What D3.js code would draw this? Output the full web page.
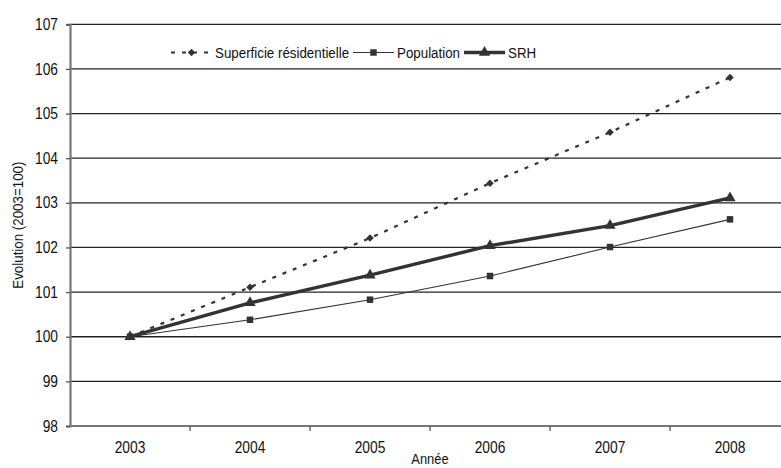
<!DOCTYPE html>
<html><head><meta charset="utf-8">
<script src="https://cdn.jsdelivr.net/npm/d3@7"></script>
<style>
html,body{margin:0;padding:0;background:#fff;overflow:hidden}
svg{display:block}
text{font-family:"Liberation Sans Narrow","Arial Narrow","Liberation Sans",sans-serif;fill:#111}
</style></head>
<body>
<svg id="c" width="781" height="468"></svg>
<script>
const years = ["2003","2004","2005","2006","2007","2008"];
const superficie = [100, 101.11, 102.21, 103.44, 104.58, 105.81];
const population = [100, 100.38, 100.83, 101.36, 102.01, 102.63];
const srh = [100, 100.76, 101.38, 102.04, 102.49, 103.11];
const yTicks = [98, 99, 100, 101, 102, 103, 104, 105, 106, 107];
const seriesNames = ["Superficie résidentielle", "Population", "SRH"];

const svg = d3.select("#c");
const L = 70, R = 790, T = 24.3, B = 426;
const x = d3.scaleBand().domain(years).range([L, R]).padding(0);
const y = d3.scaleLinear().domain([98, 107]).range([B, T]);
const col = "#333";

function condense(sel, k) {
  sel.each(function () {
    const w = this.getComputedTextLength();
    d3.select(this).attr("textLength", w * k).attr("lengthAdjust", "spacingAndGlyphs");
  });
}
const K = 0.86;

// gridlines
svg.append("g").selectAll("line").data(yTicks.filter(d => d !== 98)).join("line")
  .attr("x1", L).attr("x2", R).attr("y1", d => y(d)).attr("y2", d => y(d))
  .attr("stroke", "#222").attr("stroke-width", 1.3);

// y axis
const ya = svg.append("g").attr("transform", `translate(${L},0)`)
  .call(d3.axisLeft(y).tickValues(yTicks).tickSize(4).tickPadding(8));
ya.select(".domain").attr("stroke", "#777").attr("stroke-width", 2.2);
ya.selectAll(".tick line").attr("stroke", "#555").attr("stroke-width", 1.3);
ya.selectAll(".tick text").style("font-size", "16px").attr("fill", "#111").call(condense, K);

// x axis
const xa = svg.append("g").attr("transform", `translate(0,${B})`)
  .call(d3.axisBottom(x).tickSize(0).tickPadding(16));
xa.select(".domain").remove();
xa.selectAll(".tick text").style("font-size", "16px").attr("fill", "#111").call(condense, K);
svg.append("line").attr("x1", L).attr("x2", R).attr("y1", B).attr("y2", B)
  .attr("stroke", "#777").attr("stroke-width", 2.2);
svg.append("g").selectAll("line").data(years.slice(1)).join("line")
  .attr("x1", d => x(d)).attr("x2", d => x(d)).attr("y1", B).attr("y2", B + 5)
  .attr("stroke", "#555").attr("stroke-width", 1.3);

// axis titles
svg.append("text").attr("transform", `translate(23,${(T + B) / 2}) rotate(-90)`)
  .attr("text-anchor", "middle").style("font-size", "15.5px").text("Evolution (2003=100)").call(condense, K);
svg.append("text").attr("x", (L + R) / 2).attr("y", 464)
  .attr("text-anchor", "middle").style("font-size", "15px").text("Année").call(condense, K);

const cx = d => x(d) + x.bandwidth() / 2;
const mk = vals => years.map((yr, i) => [cx(yr), y(vals[i])]);
const line = d3.line();

const sym = {
  diamond: d3.symbol().type(d3.symbolSquare).size(28),
  square: d3.symbol().type(d3.symbolSquare).size(42),
  triangle: d3.symbol().type(d3.symbolTriangle).size(55)
};
const rot = { diamond: 45, square: 0, triangle: 0 };

function drawSeries(vals, width, dash, shape) {
  const pts = mk(vals);
  svg.append("path").attr("d", line(pts)).attr("fill", "none")
    .attr("stroke", col).attr("stroke-width", width)
    .attr("stroke-dasharray", dash || null).attr("stroke-linejoin", "round");
  svg.append("g").selectAll("path").data(pts).join("path")
    .attr("transform", d => `translate(${d[0]},${d[1]}) rotate(${rot[shape]})`)
    .attr("d", sym[shape]).attr("fill", col);
}
drawSeries(population, 1.1, null, "square");
drawSeries(superficie, 2.2, "4,7", "diamond");
drawSeries(srh, 3.4, null, "triangle");

// legend
const ly = 52.5;
const lg = svg.append("g");
function legItem(x1, x2, tx, width, dash, shape, label) {
  lg.append("line").attr("x1", x1).attr("x2", x2).attr("y1", ly).attr("y2", ly)
    .attr("stroke", col).attr("stroke-width", width).attr("stroke-dasharray", dash || null);
  lg.append("path").attr("transform", `translate(${(x1 + x2) / 2},${ly}) rotate(${rot[shape]})`)
    .attr("d", sym[shape]).attr("fill", col);
  lg.append("text").attr("x", tx).attr("y", ly + 5.5).style("font-size", "15.5px").text(label).call(condense, K);
}
legItem(171, 212, 215, 2.2, "4,7", "diamond", seriesNames[0]);
legItem(353, 394, 397, 1.1, null, "square", seriesNames[1]);
legItem(464, 505, 508, 3.4, null, "triangle", seriesNames[2]);
</script>
</body></html>
